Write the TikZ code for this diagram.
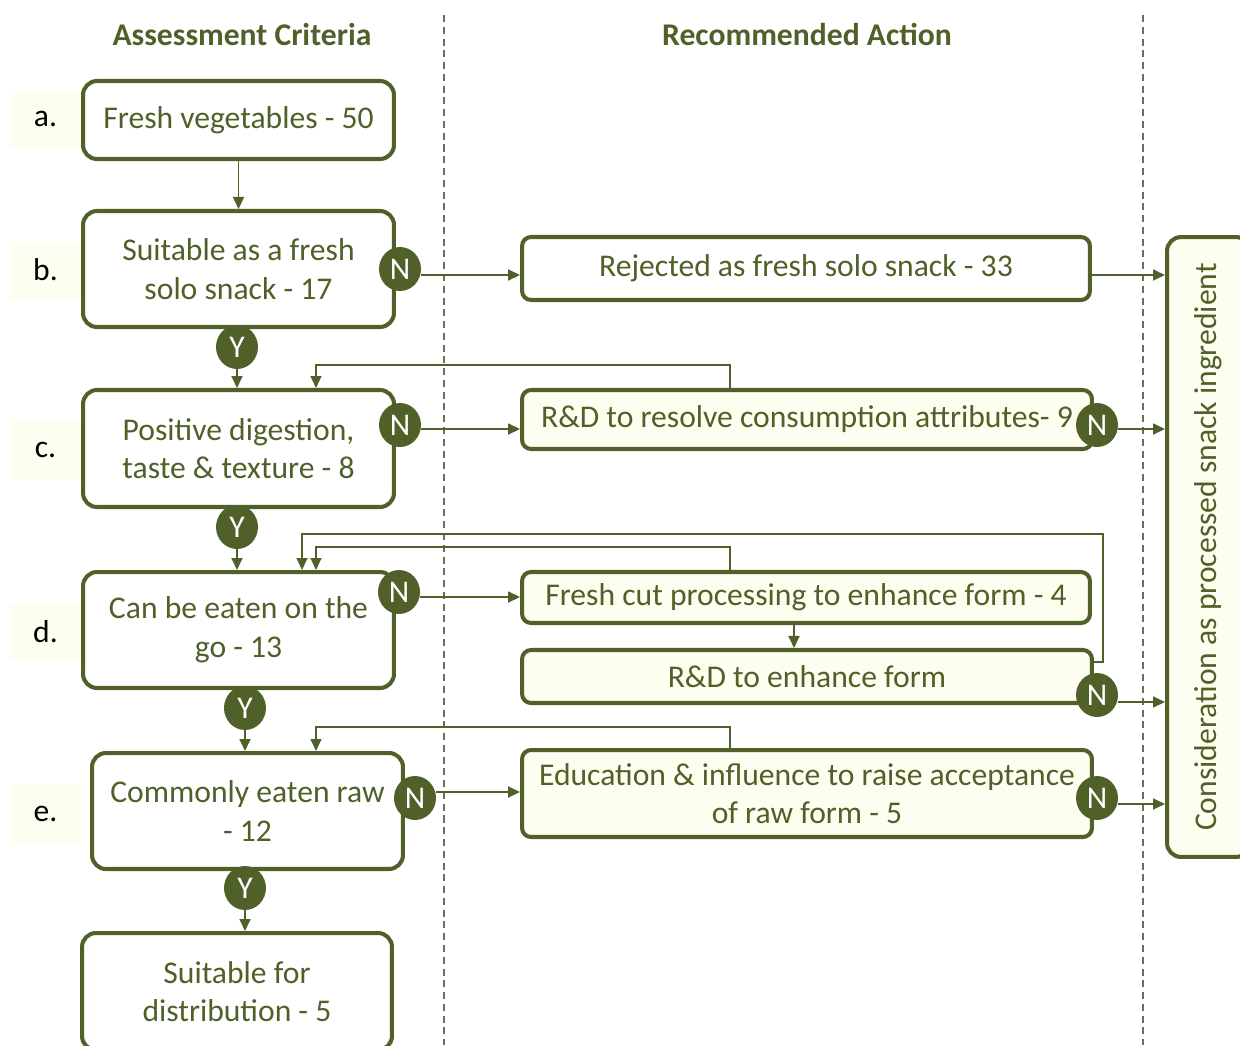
\documentclass[tikz,border=0pt]{standalone}
\usepackage{fontspec}
\setmainfont{Carlito}
\usepackage{xcolor}
\usepackage{tikz}
\usetikzlibrary{positioning, shapes.geometric, arrows.meta, calc}

\definecolor{leaf}{RGB}{79,97,40}
\definecolor{cream}{RGB}{254,254,240}
\definecolor{divider}{RGB}{105,112,85}

\tikzset{
  crit/.style={draw=leaf, line width=2.3pt, rounded corners=0.28cm, fill=white,
    text=leaf, align=center, inner sep=0pt, font=\fontsize{18}{22}\selectfont},
  act/.style={crit, fill=cream, rounded corners=0.18cm},
  yn/.style={ellipse, fill=leaf, text=white, inner sep=0pt, minimum width=0.84cm,
    minimum height=0.88cm, font=\fontsize{18}{18}\selectfont},
  tag/.style={fill=cream, minimum width=1.42cm, minimum height=1.14cm, inner sep=0pt,
    font=\fontsize{18}{22}\selectfont},
  head/.style={text=leaf, font=\fontsize{18}{22}\selectfont\bfseries},
  link/.style={draw=leaf, line width=1pt, -{Triangle[length=0.24cm, width=0.22cm]}},
  back/.style={link, line width=0.6pt},
}

\begin{document}
\begin{tikzpicture}[x=0.02cm, y=-0.02cm]
    \useasboundingbox (0,0) rectangle (1240,1045);

    % Column dividers
    \foreach \x in {444,1143} {
        \draw[divider, line width=0.6pt, dash pattern=on 4pt off 2.7pt] (\x,15) -- (\x,1045);
    }

    % Column headings
    \node[head] (hcrit) at (242,35) {Assessment Criteria};
    \node[head] (hact) at (807,34) {Recommended Action};

    % Step letters
    \node[tag] (la) at (45.5,118.5) {a.};
    \node[tag] (lb) at (45.5,270) {b.};
    \node[tag] (lc) at (45.5,450) {c.};
    \node[tag] (ld) at (45.5,631.5) {d.};
    \node[tag] (le) at (45.5,813.5) {e.};

    % Criteria (left column)
    \node[crit, minimum width=6.22cm, minimum height=1.56cm] (a) at (238.5,120) {Fresh vegetables - 50};
    \node[crit, minimum width=6.22cm, minimum height=2.32cm] (b) at (238.5,269) {Suitable as a fresh\\solo snack - 17};
    \node[crit, minimum width=6.22cm, minimum height=2.34cm] (c) at (238.5,448.5) {Positive digestion,\\taste \& texture - 8};
    \node[crit, minimum width=6.22cm, minimum height=2.32cm] (d) at (238.5,630) {Can be eaten on the\\go - 13};
    \node[crit, minimum width=6.22cm, minimum height=2.32cm] (e) at (247.5,811) {Commonly eaten raw\\- 12};
    \node[crit, minimum width=6.2cm, minimum height=2.34cm] (f) at (237,991.5) {Suitable for\\distribution - 5};

    % Actions (middle column)
    \node[crit, rounded corners=0.18cm, minimum width=11.36cm, minimum height=1.26cm] (r1) at (806,268.5) {Rejected as fresh solo snack - 33};
    \node[act, minimum width=11.4cm, minimum height=1.18cm] (r2) at (807,419.5) {R\&D to resolve consumption attributes- 9};
    \node[act, minimum width=11.36cm, minimum height=1.02cm] (r3) at (806,597.5) {Fresh cut processing to enhance form - 4};
    \node[act, minimum width=11.4cm, minimum height=1.06cm] (r4) at (807,676.5) {R\&D to enhance form};
    \node[act, minimum width=11.4cm, minimum height=1.74cm] (r5) at (807,793.5) {Education \& influence to raise acceptance\\of raw form - 5};

    % Outcome (right column)
    \node[act, rounded corners=0.28cm, minimum width=1.66cm, minimum height=12.4cm] (t) at (1208.5,547) {\rotatebox{90}{Consideration as processed snack ingredient}};

    % Yes / No markers
    \node[yn] (nb) at (400,269) {N};
    \node[yn] (nc) at (400,425) {N};
    \node[yn] (nd) at (399,592) {N};
    \node[yn] (ne) at (415,798) {N};
    \node[yn] (n2) at (1097,425) {N};
    \node[yn] (n4) at (1097,695) {N};
    \node[yn] (n5) at (1097,798) {N};
    \node[yn] (yb) at (237,347) {Y};
    \node[yn] (yc) at (237,527) {Y};
    \node[yn] (yd) at (245,708) {Y};
    \node[yn] (ye) at (245,888) {Y};

    % Yes path down the left column
    \draw[link] (a.south) -- (b.north);
    \draw[link] (yb.south) -- (yb.south |- c.north);
    \draw[link] (yc.south) -- (yc.south |- d.north);
    \draw[link] (yd.south) -- (yd.south |- e.north);
    \draw[link] (ye.south) -- (ye.south |- f.north);

    % No branches into the actions
    \coordinate (sb) at ([yshift=-0.12cm]nb.east);
    \coordinate (sc) at ([yshift=-0.08cm]nc.east);
    \coordinate (sd) at ([yshift=-0.1cm]nd.east);
    \coordinate (se) at ([yshift=0.12cm]ne.east);
    \draw[link] (sb) -- (sb -| r1.west);
    \draw[link] (sc) -- (sc -| r2.west);
    \draw[link] (sd) -- (sd -| r3.west);
    \draw[link] (se) -- (se -| r5.west);

    % Fresh cut then R&D
    \coordinate (rr) at (794,0);
    \draw[link] (rr |- r3.south) -- (rr |- r4.north);

    % Actions into processed ingredient
    \coordinate (s1) at ([yshift=-0.13cm]r1.east);
    \coordinate (s2) at ([yshift=-0.08cm]n2.east);
    \coordinate (s4) at ([yshift=-0.14cm]n4.east);
    \coordinate (s5) at ([yshift=-0.12cm]n5.east);
    \draw[link] (s1) -- (s1 -| t.west);
    \draw[link] (s2) -- (s2 -| t.west);
    \draw[link] (s4) -- (s4 -| t.west);
    \draw[link] (s5) -- (s5 -| t.west);

    % Loops back to the criteria
    \coordinate (fc) at (730,365);
    \coordinate (fd) at (730,547);
    \coordinate (fe) at (730,727);
    \coordinate (fr) at (1103,662);
    \coordinate (fo) at (1103,534);
    \draw[back] (fc |- r2.north) -- (fc) -| ([xshift=1.55cm]c.north);
    \draw[back] (fd |- r3.north) -- (fd) -| ([xshift=1.55cm]d.north);
    \draw[back] (fr -| r4.east) -- (fr) -- (fo) -| ([xshift=1.27cm]d.north);
    \draw[back] (fe |- r5.north) -- (fe) -| ([xshift=1.37cm]e.north);

\end{tikzpicture}
\end{document}
